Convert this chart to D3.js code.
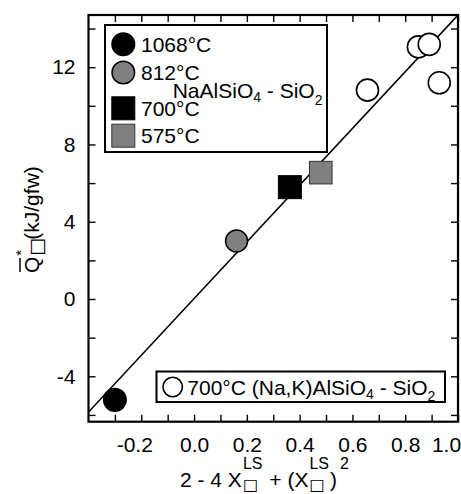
<!DOCTYPE html>
<html>
<head>
<meta charset="utf-8">
<script src="https://cdn.jsdelivr.net/npm/d3@7"></script>
<style>
body { margin: 0; background: #fff; }
text { font-family: "Liberation Sans", Arial, sans-serif; fill: #000; }
</style>
</head>
<body>
<div class="chart"></div>
<script>
// data
const pts1068 = [[-0.30, -5.22]];
const pts812 = [[0.161, 3.00]];
const pts700 = [[0.363, 5.79]];
const pts575 = [[0.480, 6.54]];
const ptsNaK = [[0.657, 10.81], [0.850, 13.05], [0.891, 13.18], [0.929, 11.19]];
const fitLine = [[-0.4, -5.85], [1.0, 14.70]];

const xTicks = [-0.3, -0.2, -0.1, 0.0, 0.1, 0.2, 0.3, 0.4, 0.5, 0.6, 0.7, 0.8, 0.9, 1.0];
const xLabels = [-0.2, 0.0, 0.2, 0.4, 0.6, 0.8, 1.0];
const yTicks = [-6, -4, -2, 0, 2, 4, 6, 8, 10, 12, 14];
const yLabels = [-4, 0, 4, 8, 12];
const legendLabels = ["1068°C", "812°C", "700°C", "575°C"];

const outerWidth = 461, outerHeight = 494;
const margin = {top: 15, right: 3, bottom: 72.3, left: 88.5};
const width = outerWidth - margin.left - margin.right;
const height = outerHeight - margin.top - margin.bottom;
const FS = 21;

const svg = d3.select(".chart").append("svg")
    .attr("width", outerWidth)
    .attr("height", outerHeight);

const xScale = d3.scaleLinear().domain([-0.4, 1.0]).range([margin.left, margin.left + width]);
const yScale = d3.scaleLinear().domain([-6.35, 14.70]).range([margin.top + height, margin.top]);

const near = (arr, d) => arr.some(v => Math.abs(v - d) < 1e-9);
const fmtX = d => near(xLabels, d) ? d3.format(".1f")(d).replace("\u2212", "-") : "";
const fmtY = d => near(yLabels, d) ? String(d) : "";

// axes, ticks pointing inward on all four sides
const gx = svg.append("g")
    .attr("transform", `translate(0,${margin.top + height})`)
    .call(d3.axisBottom(xScale).tickValues(xTicks).tickSize(-7).tickPadding(15).tickFormat(fmtX));
const gy = svg.append("g")
    .attr("transform", `translate(${margin.left},0)`)
    .call(d3.axisLeft(yScale).tickValues(yTicks).tickSize(-7).tickPadding(13).tickFormat(fmtY));
const gt = svg.append("g")
    .attr("transform", `translate(0,${margin.top})`)
    .call(d3.axisTop(xScale).tickValues(xTicks).tickSize(-7).tickFormat(""));
const gr = svg.append("g")
    .attr("transform", `translate(${margin.left + width},0)`)
    .call(d3.axisRight(yScale).tickValues(yTicks).tickSize(-7).tickFormat(""));

[gx, gy, gt, gr].forEach(g => {
    g.select(".domain").remove();
    g.selectAll(".tick line").attr("stroke", "#000").attr("stroke-width", 1.4);
    g.selectAll(".tick text").style("font-size", FS + "px").attr("font-family", null);
});
gx.selectAll(".tick text").attr("dx", d => Math.abs(d - 1.0) < 1e-9 ? -12 : (d < 0 ? -7 : 0));

// plot frame
svg.append("rect")
    .attr("x", margin.left).attr("y", margin.top)
    .attr("width", width).attr("height", height)
    .attr("fill", "none").attr("stroke", "#000").attr("stroke-width", 2.2);

// regression line, clipped to the frame
svg.append("clipPath").attr("id", "clip")
    .append("rect")
    .attr("x", margin.left).attr("y", margin.top)
    .attr("width", width).attr("height", height);

svg.append("path")
    .datum(fitLine)
    .attr("clip-path", "url(#clip)")
    .attr("fill", "none")
    .attr("stroke", "#000")
    .attr("stroke-width", 1.6)
    .attr("d", d3.line().x(d => xScale(d[0])).y(d => yScale(d[1])));

const styles = {
    c1068: {shape: "circle", fill: "#000", stroke: "#000", sw: 1.5},
    c812: {shape: "circle", fill: "#808080", stroke: "#000", sw: 1.5},
    s700: {shape: "square", fill: "#000", stroke: "#000", sw: 1},
    s575: {shape: "square", fill: "#808080", stroke: "#333", sw: 1},
    oNaK: {shape: "circle", fill: "#fff", stroke: "#000", sw: 1.6}
};

function marker(g, st, cx, cy, r) {
    if (st.shape === "circle") {
        g.append("circle").attr("cx", cx).attr("cy", cy).attr("r", r)
            .attr("fill", st.fill).attr("stroke", st.stroke).attr("stroke-width", st.sw);
    } else {
        g.append("rect").attr("x", cx - r).attr("y", cy - r)
            .attr("width", 2 * r).attr("height", 2 * r)
            .attr("fill", st.fill).attr("stroke", st.stroke).attr("stroke-width", st.sw);
    }
}

const gm = svg.append("g");
[[pts1068, styles.c1068, 11.3], [pts812, styles.c812, 11], [pts700, styles.s700, 11.5],
 [pts575, styles.s575, 11.3], [ptsNaK, styles.oNaK, 11]].forEach(([pts, st, r]) => {
    pts.forEach(p => marker(gm, st, xScale(p[0]), yScale(p[1]), r));
});

// text with sub/superscripts; stacked parts share the x of the previous part
function rich(g, x0, y0, parts, size) {
    const t = g.append("text").attr("x", x0).attr("y", y0)
        .style("font-size", size + "px").style("white-space", "pre");
    let cx = x0, lastStart = x0;
    parts.forEach(p => {
        const sp = t.append("tspan").text(p.t)
            .attr("y", y0 + (p.dy || 0))
            .style("font-size", (p.size || size) + "px");
        if (p.font) sp.style("font-family", p.font);
        const start = (p.stack ? lastStart : cx) + (p.dx || 0);
        sp.attr("x", start);
        const w = sp.node().getComputedTextLength();
        if (!p.stack) { lastStart = start; cx = start + w; }
        else cx = Math.max(cx, start + w);
    });
    return t;
}

// upper legend
const lg = svg.append("g");
lg.append("rect").attr("x", 105).attr("y", 25).attr("width", 222).attr("height", 127)
    .attr("fill", "#fff").attr("stroke", "#000").attr("stroke-width", 2);
const legStyles = [styles.c1068, styles.c812, styles.s700, styles.s575];
const legRows = [44.2, 72.5, 108.3, 135.7];
legendLabels.forEach((lab, i) => {
    marker(lg, legStyles[i], 123.3, legRows[i], legStyles[i].shape === "circle" ? 11.3 : 11.5);
    lg.append("text").attr("x", 141).attr("y", legRows[i] + 7.5)
        .style("font-size", FS + "px").text(lab);
});
rich(lg, 172.7, 98.3, [
    {t: "NaAlSiO"}, {t: "4", size: 14, dy: 4}, {t: " - SiO"}, {t: "2", size: 14, dy: 7}
], FS);

// lower legend
const lg2 = svg.append("g");
lg2.append("rect").attr("x", 156.5).attr("y", 371.5).attr("width", 288.5).attr("height", 30.5)
    .attr("fill", "#fff").attr("stroke", "#000").attr("stroke-width", 2);
marker(lg2, styles.oNaK, 172.7, 387, 9.7);
rich(lg2, 187.3, 395, [
    {t: "700°C (Na,K)AlSiO"}, {t: "4", size: 14, dy: 4}, {t: " - SiO"}, {t: "2", size: 14, dy: 6}
], FS);

// x axis title
rich(svg, 180, 486.7, [
    {t: "2 - 4 X"},
    {t: "LS", size: 16, dy: -17.5, dx: 1},
    {t: "□", size: 16, dy: 3, stack: true, dx: 0, font: "DejaVu Sans"},
    {t: " + (X", dx: 1},
    {t: "LS", size: 16, dy: -17.5, dx: 1},
    {t: "□", size: 16, dy: 3, stack: true, dx: 0, font: "DejaVu Sans"},
    {t: ")", dx: 1},
    {t: "2", size: 16, dy: -17.5, dx: 3}
], FS);

// y axis title
const yt = svg.append("g").attr("transform", "translate(39,273) rotate(-90)");
rich(yt, 0, 0, [
    {t: "Q"},
    {t: "*", size: 15, dy: -13, dx: 1},
    {t: "□", size: 19, dy: 4, stack: true, font: "DejaVu Sans"},
    {t: "(kJ/gfw)", dx: -2}
], FS);
yt.append("line").attr("x1", 1).attr("x2", 15).attr("y1", -19).attr("y2", -19)
    .attr("stroke", "#000").attr("stroke-width", 1.5);
</script>
</body>
</html>
